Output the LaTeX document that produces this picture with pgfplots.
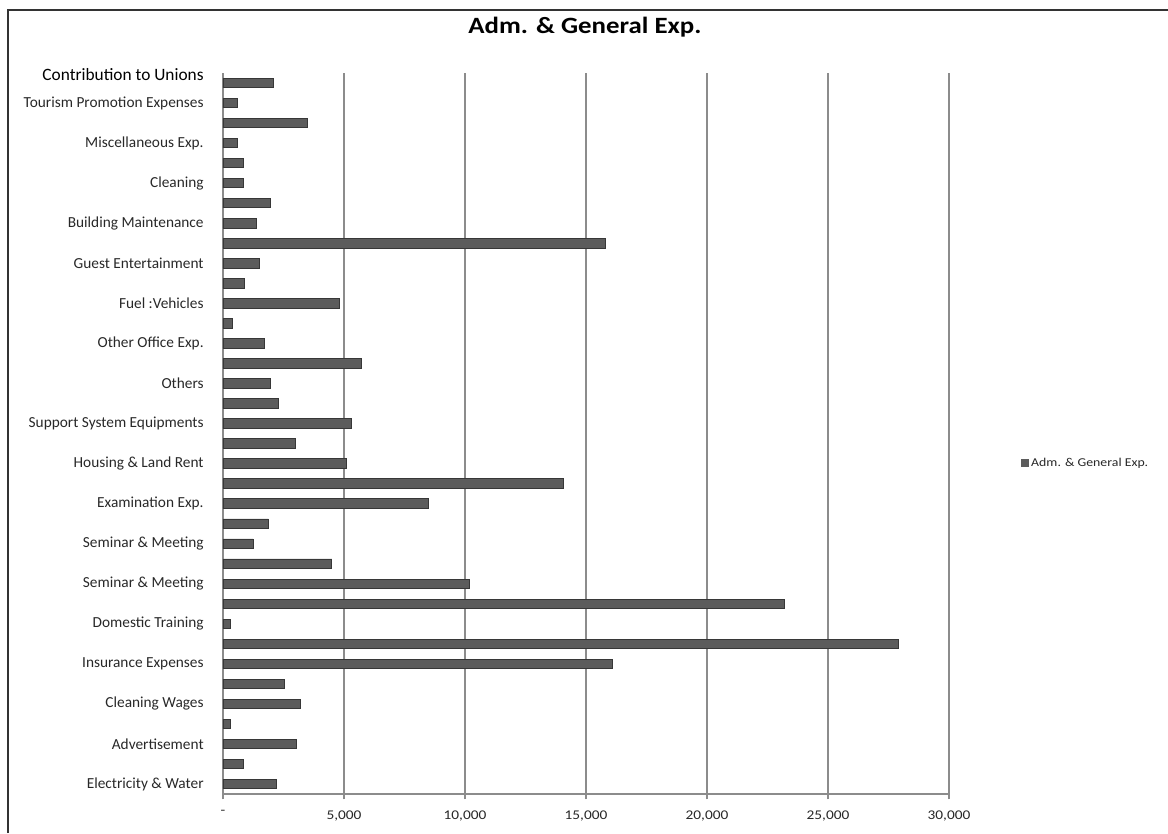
\documentclass[border=0pt]{standalone}
\usepackage{pgfplots}
\pgfplotsset{compat=1.18}
\usepackage{pgfplotstable}
\usepackage{fontspec}
\setmainfont{Carlito}[FakeStretch=1.15]
\newfontfamily\plainfont{Carlito}
\definecolor{barfill}{RGB}{92,92,92}
\definecolor{barline}{RGB}{55,55,55}
\definecolor{gridc}{RGB}{140,140,140}
\definecolor{labc}{RGB}{40,40,40}
\pgfplotstableread{
pos val
1 2200
2 850
3 3050
4 300
5 3200
6 2550
7 16100
8 27900
9 300
10 23200
11 10200
12 4500
13 1250
14 1870
15 8500
16 14050
17 5100
18 3000
19 5300
20 2300
21 1950
22 5700
23 1700
24 400
25 4800
26 900
27 1500
28 15800
29 1400
30 1950
31 850
32 850
33 600
34 3500
35 600
36 2100
}\datatable
\begin{document}
\begin{tikzpicture}
\path[use as bounding box] (-167.25pt,-29.25pt) rectangle (708.75pt,595.5pt);
\begin{axis}[
  scale only axis,
  width=544.5pt, height=540.75pt,
  xbar, bar width=0.47, bar shift=0pt,
  xmin=0, xmax=30000, ymin=0.5, ymax=36.5,
  scaled x ticks=false,
  axis x line*=bottom, axis y line*=left,
  axis line style={gridc, line width=1pt},
  xtick={0,5000,10000,15000,20000,25000,30000},
  xticklabels={-,{5,000},{10,000},{15,000},{20,000},{25,000},{30,000}},
  xmajorgrids, major grid style={gridc, line width=1.1pt},
  xtick style={gridc, line width=0.8pt},
  major tick length=4pt,
  tick align=outside,
  xticklabel style={font=\fontsize{10}{12}\selectfont, text=labc, yshift=-5pt},
  ytick={1,3,5,7,9,11,13,15,17,19,21,23,25,27,29,31,33,35,36.4},
  yticklabels={Electricity \& Water, Advertisement, Cleaning Wages, Insurance Expenses, Domestic Training, Seminar \& Meeting, Seminar \& Meeting, Examination Exp., Housing \& Land Rent, Support System Equipments, Others, Other Office Exp., Fuel :Vehicles, Guest Entertainment, Building Maintenance, Cleaning, Miscellaneous Exp., Tourism Promotion Expenses, {\color{black}\fontsize{13}{15}\selectfont Contribution to Unions}},
  ytick style={draw=none},
  minor ytick={0.5,1.5,...,36.5},
  minor tick length=4pt,
  minor y tick style={gridc, line width=0.8pt},
  yticklabel style={font=\plainfont\fontsize{11.5}{14}\selectfont, text=labc, xshift=-7pt},
  legend style={at={(1.284,0.459)}, anchor=east, draw=none, fill=none,
    font=\fontsize{9}{11}\selectfont, text=labc},
  legend image code/.code={\fill[barfill] (0pt,-2.6pt) rectangle (5.2pt,2.6pt);},
  clip=false,
]
\addplot[fill=barfill, draw=barline, line width=0.6pt] table[x=val, y=pos] {\datatable};
\addlegendentry{Adm. \& General Exp.}
\node[font=\bfseries\fontsize{17.5}{20}\selectfont, text=black] at (rel axis cs:0.4986,1.064) {Adm. \& General Exp.};
\end{axis}
\draw[line width=2.2pt, color=black!80] (-161.25pt,-29.25pt) -- (-161.25pt,588pt) -- (708.75pt,588pt);
\end{tikzpicture}
\end{document}
